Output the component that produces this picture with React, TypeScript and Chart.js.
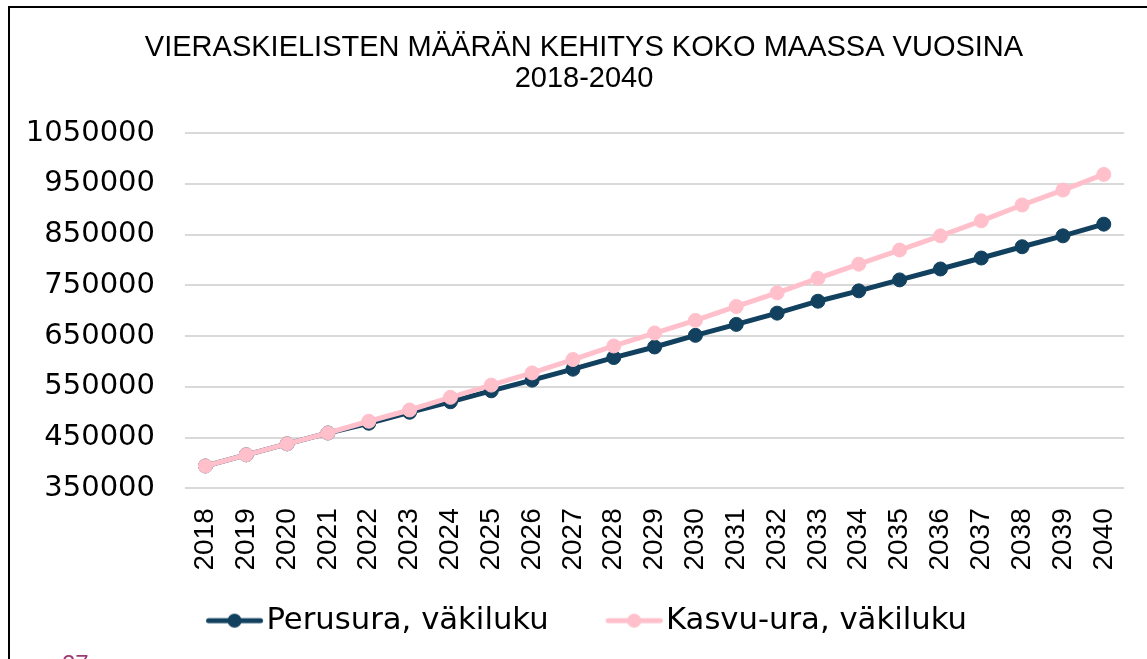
import React, { useEffect, useRef } from "react";
import { Chart, registerables } from "chart.js";

Chart.register(...registerables);

const years = [
  "2018", "2019", "2020", "2021", "2022", "2023", "2024", "2025", "2026", "2027", "2028", "2029",
  "2030", "2031", "2032", "2033", "2034", "2035", "2036", "2037", "2038", "2039", "2040",
];

const perusura = [
  394000, 416000, 437600, 459000, 478200, 499800, 520500, 542100, 563100, 584700, 607600, 628400,
  651300, 672900, 695100, 718600, 739000, 760600, 782100, 803700, 825900, 847400, 870400,
];

const kasvuura = [
  394000, 416000, 437600, 459000, 482100, 504300, 529200, 553300, 577400, 603700, 630400, 655900,
  680800, 708200, 735100, 763700, 791600, 819400, 847400, 876900, 908200, 937600, 968400,
];

const seriesNames = ["Perusura, väkiluku", "Kasvu-ura, väkiluku"];
const titleLines = ["VIERASKIELISTEN MÄÄRÄN KEHITYS KOKO MAASSA VUOSINA", "2018-2040"];
const yMin = 350000;
const yMax = 1050000;
const yStep = 100000;
const pageNumber = "27";

const BLUE = "#12415f";
const PINK = "#ffc0cb";

function legendMarker(color: string): HTMLCanvasElement {
  const c = document.createElement("canvas");
  c.width = 80;
  c.height = 18;
  const ctx = c.getContext("2d")!;
  ctx.strokeStyle = color;
  ctx.lineWidth = 5;
  ctx.lineCap = "round";
  ctx.beginPath();
  ctx.moveTo(22.5, 9);
  ctx.lineTo(74.5, 9);
  ctx.stroke();
  ctx.fillStyle = color;
  ctx.beginPath();
  ctx.arc(48.5, 9, 7, 0, Math.PI * 2);
  ctx.fill();
  return c;
}

// let tick labels extend beyond their scale box (no clipping)
const noLabelClip = (s: any) => {
  s._computeLabelArea = () => undefined;
};

export default function App() {
  const ref = useRef<HTMLCanvasElement | null>(null);

  useEffect(() => {
    if (!ref.current) return;
    const colors = [BLUE, PINK];
    const markers = colors.map((c) => legendMarker(c));
    const chart = new Chart(ref.current, {
      type: "line",
      data: {
        labels: years,
        datasets: [
          {
            label: seriesNames[0],
            data: perusura,
            borderColor: BLUE,
            backgroundColor: BLUE,
            borderWidth: 5,
            pointRadius: 7,
            pointBorderWidth: 1,
            pointBackgroundColor: BLUE,
            pointBorderColor: BLUE,
            tension: 0,
            order: 2,
          },
          {
            label: seriesNames[1],
            data: kasvuura,
            borderColor: PINK,
            backgroundColor: PINK,
            borderWidth: 5,
            pointRadius: 7,
            pointBorderWidth: 1,
            pointBackgroundColor: PINK,
            pointBorderColor: PINK,
            tension: 0,
            order: 1,
          },
        ],
      },
      options: {
        animation: false,
        responsive: false,
        devicePixelRatio: 1,
        layout: { padding: { left: 28, right: 28, top: 0, bottom: 22 } },
        plugins: {
          title: {
            display: true,
            text: titleLines,
            color: "#000",
            font: { family: "Liberation Sans", size: 29, weight: "normal", lineHeight: 31 / 29 },
            padding: { top: 24.5, bottom: 38.5 },
          },
          legend: {
            position: "bottom",
            labels: {
              usePointStyle: true,
              pointStyleWidth: 50,
              padding: 52,
              color: "#000",
              font: { family: "DejaVu Sans", size: 30.7 },
              generateLabels: () =>
                seriesNames.map((name, i) => ({
                  text: name,
                  pointStyle: markers[i],
                  fillStyle: colors[i],
                  strokeStyle: colors[i],
                  lineWidth: 0,
                  hidden: false,
                  datasetIndex: i,
                  fontColor: "#000",
                })) as any,
            },
          },
          tooltip: { enabled: false },
        },
        scales: {
          x: {
            offset: true,
            grid: { display: false, drawTicks: false },
            border: { display: false },
            ticks: {
              color: "#000",
              font: { family: "Liberation Sans", size: 28 },
              minRotation: 90,
              maxRotation: 90,
              padding: 20,
              autoSkip: false,
            },
            afterFit: (s: any) => {
              s.height = 65;
              noLabelClip(s);
            },
          },
          y: {
            min: yMin,
            max: yMax,
            ticks: {
              stepSize: yStep,
              color: "#000",
              font: { family: "DejaVu Sans", size: 29 },
              padding: 30,
              callback: (v: any) => String(v),
            },
            grid: { color: "#d9d9d9", lineWidth: 2, drawTicks: false },
            border: { display: false },
            afterFit: (s: any) => {
              s.width = 147;
              noLabelClip(s);
            },
          },
        },
      },
    });
    return () => chart.destroy();
  }, []);

  return (
    <div
      style={{
        position: "fixed",
        left: 8,
        top: 6,
        width: 1139,
        height: 653,
        overflow: "hidden",
        borderTop: "2px solid #000",
        borderLeft: "2px solid #000",
        boxSizing: "border-box",
        background: "#fff",
      }}
    >
      <canvas ref={ref} width={1148} height={660} style={{ display: "block" }} />
      <div
        style={{
          position: "absolute",
          left: 52,
          top: 644,
          fontFamily: "Liberation Sans",
          fontSize: 24,
          lineHeight: "24px",
          color: "#9b3b74",
        }}
      >
        {pageNumber}
      </div>
    </div>
  );
}
